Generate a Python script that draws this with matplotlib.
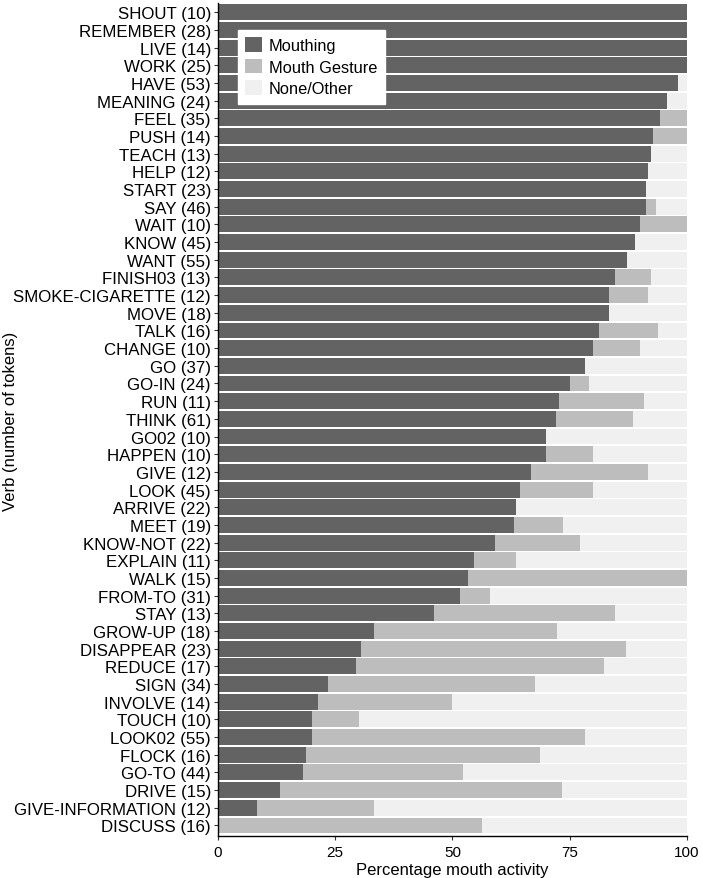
import matplotlib
matplotlib.use("Agg")
import matplotlib.pyplot as plt
import numpy as np

plt.rcParams['font.family'] = ['Liberation Sans', 'DejaVu Sans']

verbs = ["SHOUT", "REMEMBER", "LIVE", "WORK", "HAVE", "MEANING", "FEEL", "PUSH",
         "TEACH", "HELP", "START", "SAY", "WAIT", "KNOW", "WANT", "FINISH03",
         "SMOKE-CIGARETTE", "MOVE", "TALK", "CHANGE", "GO", "GO-IN", "RUN", "THINK",
         "GO02", "HAPPEN", "GIVE", "LOOK", "ARRIVE", "MEET", "KNOW-NOT", "EXPLAIN",
         "WALK", "FROM-TO", "STAY", "GROW-UP", "DISAPPEAR", "REDUCE", "SIGN", "INVOLVE",
         "TOUCH", "LOOK02", "FLOCK", "GO-TO", "DRIVE", "GIVE-INFORMATION", "DISCUSS"]
tokens = [10, 28, 14, 25, 53, 24, 35, 14, 13, 12, 23, 46, 10, 45, 55, 13,
          12, 18, 16, 10, 37, 24, 11, 61, 10, 10, 12, 45, 22, 19, 22, 11,
          15, 31, 13, 18, 23, 17, 34, 14, 10, 55, 16, 44, 15, 12, 16]
mouthing = [10, 28, 14, 25, 52, 23, 33, 13, 12, 11, 21, 42, 9, 40, 48, 11,
            10, 15, 13, 8, 29, 18, 8, 44, 7, 7, 8, 29, 14, 12, 13, 6,
            8, 16, 6, 6, 7, 5, 8, 3, 2, 11, 3, 8, 2, 1, 0]
gesture = [0, 0, 0, 0, 0, 0, 2, 1, 0, 0, 0, 1, 1, 0, 0, 1,
           1, 0, 2, 1, 0, 1, 2, 10, 0, 1, 3, 7, 0, 2, 4, 1,
           7, 2, 5, 7, 13, 9, 15, 4, 1, 32, 8, 15, 9, 3, 9]

tokens = np.array(tokens, dtype=float)
p_mouth = np.array(mouthing) / tokens * 100
p_gest = np.array(gesture) / tokens * 100
p_none = 100 - p_mouth - p_gest
labels = [f"{v} ({int(n)})" for v, n in zip(verbs, tokens)]
y = np.arange(len(verbs))

fig = plt.figure(figsize=(7.03, 8.79), dpi=100)
ax = fig.add_axes([0.310, 0.0477, 0.667, 0.9477])

ax.barh(y, p_mouth, height=0.9, color="#636363", label="Mouthing")
ax.barh(y, p_gest, left=p_mouth, height=0.9, color="#BDBDBD", label="Mouth Gesture")
ax.barh(y, p_none, left=p_mouth + p_gest, height=0.9, color="#F0F0F0", label="None/Other")

ax.set_xlim(0, 100)
ax.set_ylim(len(verbs) - 1 + 0.6, -0.52)
ax.set_xticks([0, 25, 50, 75, 100])
ax.set_yticks(y)
ax.set_yticklabels(labels, fontsize=12.2, color="black")
ax.tick_params(axis='x', labelsize=11, length=3, colors="#333333", labelcolor="black")
ax.tick_params(axis='y', length=3, colors="#333333", labelcolor="black", pad=2)
for s in ["top", "right"]:
    ax.spines[s].set_visible(False)
for s in ["left", "bottom"]:
    ax.spines[s].set_linewidth(1.0)
    ax.spines[s].set_color("black")

ax.set_xlabel("Percentage mouth activity", fontsize=12, labelpad=2)
fig.text(0.015, 0.521, "Verb (number of tokens)", fontsize=12, rotation=90,
         ha="center", va="center")

leg = ax.legend(loc="upper left", bbox_to_anchor=(0.025, 0.978), fontsize=11.8,
                frameon=True, fancybox=False, edgecolor="white", framealpha=1,
                handlelength=1.0, handleheight=1.0, handletextpad=0.45,
                labelspacing=0.35, borderpad=0.45)

fig.savefig("out.png", dpi=100)
